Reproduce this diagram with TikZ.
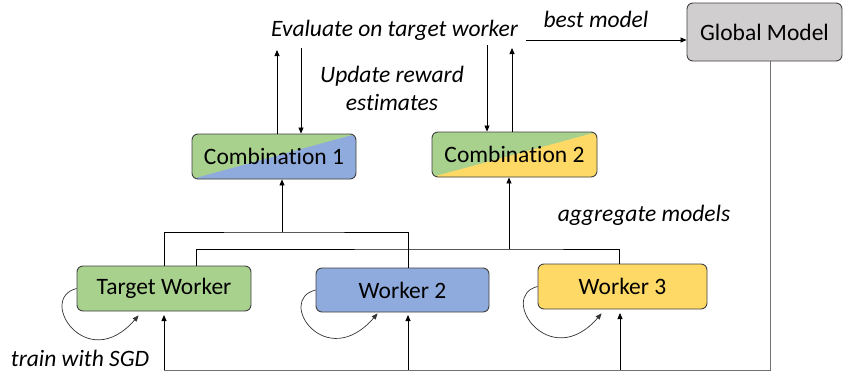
\documentclass[tikz,border=0pt]{standalone}
\usepackage{fontspec}
\setmainfont{Carlito}[Ligatures=NoCommon]
\usetikzlibrary{arrows.meta,calc}

\definecolor{boxgreen}{HTML}{A9D18E}
\definecolor{boxblue}{HTML}{8FAADC}
\definecolor{boxyellow}{HTML}{FFD966}
\definecolor{boxgray}{HTML}{D0CECE}
\definecolor{edgegray}{HTML}{404040}
\definecolor{feedgray}{HTML}{707070}

\tikzset{
  unit/.style={draw=edgegray, line width=0.9pt, rounded corners=6pt,
    inner sep=0pt, font=\fontsize{23.5}{28}\selectfont},
  plain/.style={fill=#1},
  split/.style 2 args={fill=#1, path picture={
      \fill[#2] (path picture bounding box.south west)
        -- (path picture bounding box.north east)
        -- (path picture bounding box.south east) -- cycle;}},
  note/.style={font=\fontsize{23.5}{28}\selectfont\itshape, inner sep=0pt, align=center},
  link/.style={line width=0.8pt},
  arr/.style={link, -{Triangle[length=6pt,width=5pt]}},
  loopline/.style={line width=0.7pt, draw=black!80, -{Triangle[length=6pt,width=5pt]}},
}

\begin{document}
\begin{tikzpicture}[x=1pt, y=-1pt]
\useasboundingbox (0,0) rectangle (848,375);

% model holders
\node[unit, plain=boxgray, minimum width=155pt, minimum height=58pt] (glob) at (764.5,32) {Global Model};
\node[unit, split={boxgreen}{boxblue}, minimum width=164pt, minimum height=45pt] (comb1) at (274,156.5) {Combination 1};
\node[unit, split={boxgreen}{boxyellow}, minimum width=165pt, minimum height=45pt] (comb2) at (514.5,154.5) {Combination 2};
\node[unit, plain=boxgreen, minimum width=174pt, minimum height=45pt] (tw) at (164,288.5) {Target Worker};
\node[unit, plain=boxblue, minimum width=173pt, minimum height=44pt] (w2) at (402.5,290) {Worker 2};
\node[unit, plain=boxyellow, minimum width=169pt, minimum height=45pt] (w3) at (622.5,286.5) {Worker 3};

% labels
\node[note] (eval) at (394.5,30) {Evaluate on target worker};
\node[note] (best) at (596,19) {best model};
\node[note] (upd) at (392,88) {Update reward\\estimates};
\node[note] (agg) at (644,215) {aggregate models};
\node[note] (sgd) at (80,358) {train with SGD};

% evaluation and reward updates
\draw[arr] (comb1.north -| 277,0) -- (277,50);
\draw[arr] (301,48) -- (comb1.north -| 301,0);
\draw[arr] (487,45) -- (comb2.north -| 487,0);
\draw[arr] (comb2.north -| 512,0) -- (512,48);
\coordinate (bstart) at (526,40);
\draw[arr] (bstart) -- (glob.west |- bstart);

% aggregation into combination 1
\coordinate (ja) at (282,232);
\draw[link] (tw.north) |- (ja) -- (408,232) -- (w2.north -| 408,0);
\draw[arr] (ja) -- (comb1.south -| ja);

% aggregation into combination 2
\coordinate (jb) at (509,249);
\draw[link] (tw.north -| 196,0) |- (jb) -- (619,249) -- (w3.north -| 619,0);
\draw[arr] (jb) -- (comb2.south -| jb);

% local training loops
\foreach \w/\dx/\dy in {tw/62/4, w2/62/1, w3/64/4}{
  \draw[loopline] (\w.west) .. controls +(-40,10) and +(-52,60) .. ($(\w.south west)+(\dx,\dy)$);
}

% global model sent back to the workers
\coordinate (fb) at (770,370);
\draw[link, feedgray] (glob.south -| fb) -- (fb) -- (164,370);
\draw[arr] (164,370) -- (164,315);
\draw[arr] (408,370) -- (408,315);
\draw[arr] (620,370) -- (620,313);
\end{tikzpicture}
\end{document}
